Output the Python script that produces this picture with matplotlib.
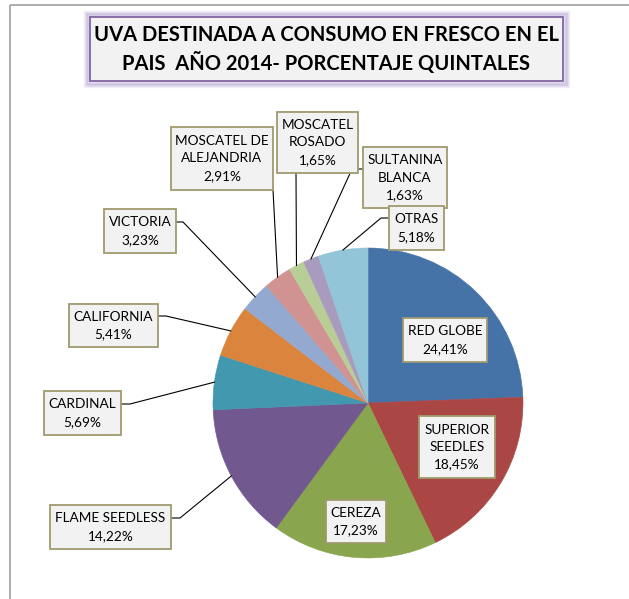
import matplotlib
matplotlib.use("Agg")
import matplotlib.pyplot as plt
from matplotlib.patches import Rectangle
import numpy as np

# ---- data ----
categories = ["RED GLOBE", "SUPERIOR\nSEEDLES", "CEREZA", "FLAME SEEDLESS", "CARDINAL",
              "CALIFORNIA", "VICTORIA", "MOSCATEL DE\nALEJANDRIA", "MOSCATEL\nROSADO",
              "SULTANINA\nBLANCA", "OTRAS"]
values = [24.41, 18.45, 17.23, 14.22, 5.69, 5.41, 3.23, 2.91, 1.65, 1.63, 5.18]
pct_labels = ["24,41%", "18,45%", "17,23%", "14,22%", "5,69%", "5,41%", "3,23%",
              "2,91%", "1,65%", "1,63%", "5,18%"]
title = "UVA DESTINADA A CONSUMO EN FRESCO EN EL\nPAIS  AÑO 2014- PORCENTAJE QUINTALES"

colors = ["#4572A7", "#AA4643", "#89A54E", "#71588F", "#4198AF", "#DB843D",
          "#93A9CF", "#D19392", "#B9CD96", "#A99BBD", "#92C5D8"]

W, H = 629, 599
fig = plt.figure(figsize=(W / 100, H / 100), dpi=100)
ax = fig.add_axes([0, 0, 1, 1])
FONT = "Lato"

def Y(py):  # pixel y (from top) -> data y
    return H - py

cx, cy, R = 368, Y(403), 155
wedges, _ = ax.pie(values, colors=colors, startangle=90, counterclock=False,
                   center=(cx, cy), radius=R, wedgeprops=dict(linewidth=0))
for w, c in zip(wedges, colors):
    w.set_edgecolor(c)
    w.set_linewidth(0.4)
ax.set_xlim(0, W)
ax.set_ylim(0, H)
ax.set_aspect("auto")
ax.axis("off")

# frame lines (chart area border)
ax.plot([10, W], [Y(5), Y(5)], color="#A6A6A6", lw=1.3, solid_capstyle="butt")
ax.plot([10, 10], [Y(5), 0], color="#A6A6A6", lw=1.3, solid_capstyle="butt")

# title box with glow
tx0, ty0, tx1, ty1 = 90, 17, 563, 81
for i, a in enumerate([0.05, 0.07, 0.09, 0.12]):
    g = 5 - i
    ax.add_patch(Rectangle((tx0 - g, Y(ty1) - g), (tx1 - tx0) + 2 * g, (ty1 - ty0) + 2 * g,
                           facecolor="none", edgecolor="#B9A6D6", lw=2.5, alpha=a * 3))
ax.add_patch(Rectangle((tx0, Y(ty1)), tx1 - tx0, ty1 - ty0, facecolor="#F2F2F2",
                       edgecolor="#8064A2", lw=1.3))
ax.text((tx0 + tx1) / 2, Y(49.5), title, ha="center", va="center", fontsize=14.5,
        fontweight="bold", family=FONT, linespacing=1.4, color="#000000")

# label boxes (pixel boxes: x0, y0, x1, y1)
boxes = [(403, 318, 487, 362), (419, 416, 495, 478), (326, 500, 386, 543),
         (50, 505, 171, 549), (44, 391, 121, 435), (69, 304, 158, 347),
         (104, 209, 176, 253), (171, 127, 273, 190), (277, 112, 358, 173),
         (363, 147, 447, 208), (389, 206, 444, 250)]
# leader attach points on box and elbow (None = no leader)
leaders = [None, None, None,
           ((171, 518), (180, 518)),
           ((121, 404), (130, 404)),
           ((158, 316), (166, 316)),
           ((176, 222), (183, 222)),
           ((273, 190), (273, 190)),
           ((296, 173), (296, 173)),
           ((363, 169), (352, 169)),
           ((389, 218), (381, 218))]

cum = np.cumsum([0] + values[:-1])
total = sum(values)
for i, (cat, pct) in enumerate(zip(categories, pct_labels)):
    x0, y0, x1, y1 = boxes[i]
    if leaders[i] is not None:
        mid = (cum[i] + values[i] / 2) / total * 360
        ang = np.deg2rad(90 - mid)
        ex, ey = cx + R * np.cos(ang), cy + R * np.sin(ang)
        (bx, by), (kx, ky) = leaders[i]
        ax.plot([bx, kx, ex], [Y(by), Y(ky), ey], color="black", lw=0.8,
                solid_joinstyle="miter", zorder=3)
    ax.add_patch(Rectangle((x0, Y(y1)), x1 - x0, y1 - y0, facecolor="#F2F2F2",
                           edgecolor="#A09A6E", lw=1.3, zorder=4))
    ax.text((x0 + x1) / 2, Y((y0 + y1) / 2), f"{cat}\n{pct}", ha="center", va="center",
            fontsize=9.8, family=FONT, linespacing=1.55, color="black", zorder=5)

fig.savefig("out.png", dpi=100)
